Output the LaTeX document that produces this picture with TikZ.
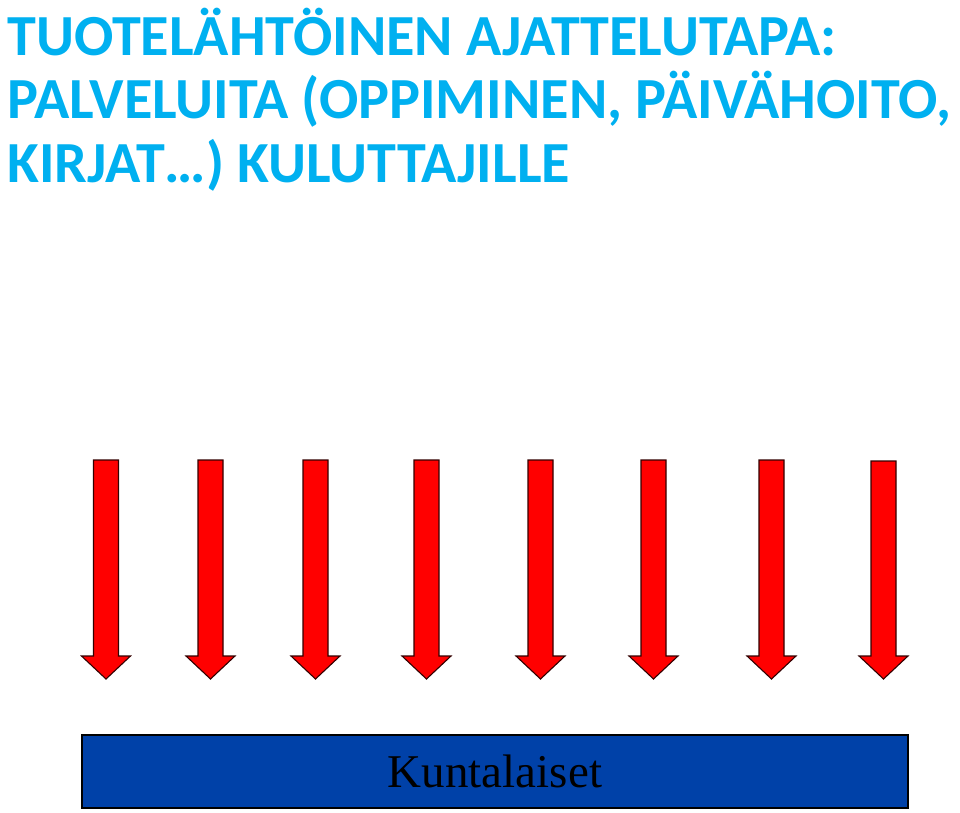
\documentclass[tikz,border=0pt]{standalone}
\usepackage{fontspec}
\setmainfont{Liberation Serif}
\newfontfamily\titlefont{Carlito}
\definecolor{titleblue}{HTML}{00B0F0}
\definecolor{boxblue}{HTML}{0041A8}
\definecolor{arrowred}{HTML}{FF0000}
\begin{document}
\begin{tikzpicture}[x=1pt,y=-1pt,
  titleline/.style={anchor=base west,inner sep=0pt,text=titleblue,font=\titlefont\bfseries\fontsize{58.2}{62}\selectfont},
  blockarrow/.style={fill=arrowred,draw=black!80!red,line width=1.1pt,line join=miter},
  basebox/.style={fill=boxblue,draw=black,line width=1.2pt,inner sep=0pt,font=\fontsize{47}{50}\selectfont,text=black}]
\useasboundingbox (0,0) rectangle (960,812);
\node[titleline] (t1) at (7,55) {TUOTELÄHTÖINEN AJATTELUTAPA:};
\node[titleline] (t2) at (7,118) {PALVELUITA (OPPIMINEN, PÄIVÄHOITO,};
\node[titleline] (t3) at (7,182) {KIRJAT…) KULUTTAJILLE};
\foreach \c/\t in {106/460,210.5/460,315.5/460,426.5/460,540.5/460,653.5/460,771.5/460,883.5/461}{
  \draw[blockarrow] (\c-12.5,\t) -- (\c+12.5,\t) -- (\c+12.5,656) -- (\c+24.5,656) -- (\c,679)
    -- (\c-24.5,656) -- (\c-12.5,656) -- cycle;
}
\node[basebox,minimum width=826pt,minimum height=73pt] (kunta) at (495,771.5) {Kuntalaiset};
\end{tikzpicture}
\end{document}
